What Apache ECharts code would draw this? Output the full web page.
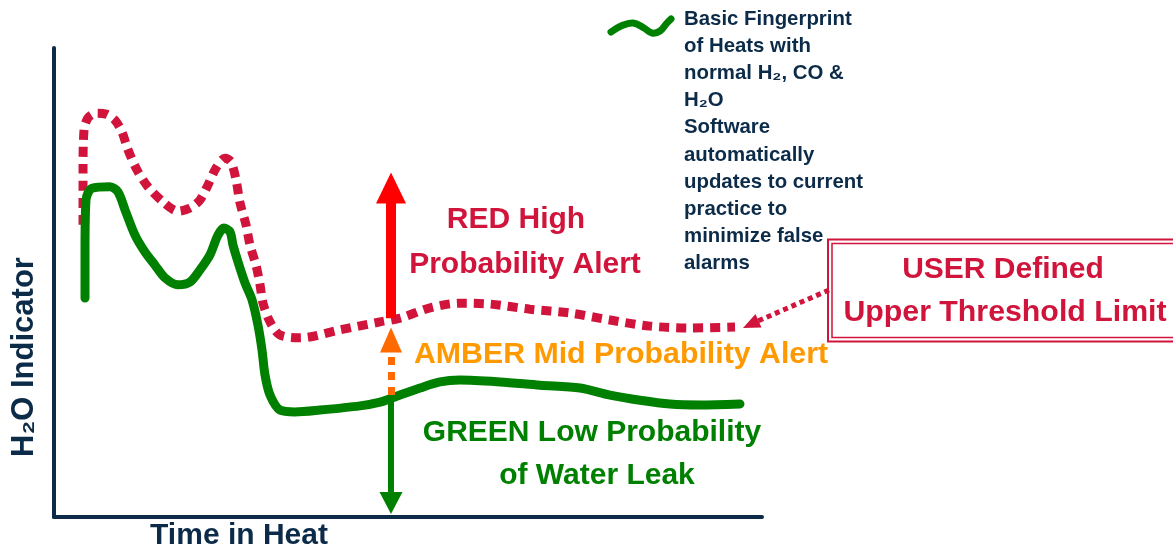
<!DOCTYPE html>
<html><head><meta charset="utf-8">
<script src="https://cdn.jsdelivr.net/npm/echarts@6/dist/echarts.min.js"></script>
<style>html,body{margin:0;padding:0;background:#fff}#c{width:1173px;height:549px}</style>
</head><body><div id="c"></div>
<script>
// Basic fingerprint (green) curve
const greenX = [4.38,4.38,4.52,5.37,7.91,9.04,10.03,11.44,12.85,14.27,15.68,17.51,19.21,20.62,22.03,23.16,24.01,24.86,25.28,25.99,26.98,27.97,28.81,29.38,29.80,30.51,31.92,34.04,37.57,43.22,46.05,48.16,51.69,54.52,57.34,62.99,68.64,74.29,78.53,82.77,87.01,91.24,96.89];
const greenY = [46.7,56.9,67.6,70.1,70.4,69.3,65.5,60.1,56.5,53.7,51.0,49.5,50.1,52.7,55.9,60.1,61.6,60.8,58.0,54.4,49.9,46.3,40.9,35.6,30.3,26.0,22.8,22.4,22.8,23.7,24.5,25.6,27.5,28.8,29.2,28.8,28.1,27.5,26.0,24.9,24.1,23.9,24.1];
// User defined upper threshold (red dashed) curve
const redX = [4.10,4.10,4.24,4.80,5.93,7.34,8.62,9.60,10.45,11.72,13.28,15.40,17.51,19.21,20.62,21.75,22.88,24.15,25.00,25.71,26.27,27.12,27.68,28.53,29.10,29.52,30.51,31.92,34.75,40.40,46.05,48.87,53.11,57.34,61.58,67.23,72.88,78.53,84.18,89.83,96.19];
const redY = [62.3,74.0,82.5,85.1,86.1,85.9,84.6,82.1,78.3,74.0,70.4,67.2,65.2,65.9,67.6,70.8,74.4,76.5,75.7,71.9,67.0,62.3,58.0,53.7,49.5,45.6,41.6,38.8,38.2,39.9,41.6,42.4,44.6,45.6,45.4,44.3,43.5,42.0,40.7,40.3,40.5];
// Alert arrows: x, and [yFrom, yTo(head centre)]
const arrowX = 47.6;
const redArrow = [42.4, 70.15];
const amberArrow = [26.0, 37.74];
const greenArrow = [26.0, 2.99];

const legendLines = ['Basic Fingerprint','of Heats with','normal H\u2082, CO &','H\u2082O','Software','automatically','updates to current','practice to','minimize false','alarms'];

const NAVY = '#0c2b48', CRIMSON = '#d0143b', GREEN = '#008000';
const FONT = '"Liberation Sans", Arial, sans-serif';

const zip = (xs, ys) => xs.map((x, i) => [x, ys[i]]);

const chart = echarts.init(document.getElementById('c'));
const txt = (x, y, text, color, size, align) => ({
  type: 'text', x, y, silent: true,
  style: { text, fill: color, font: 'bold ' + size + 'px ' + FONT, textAlign: align || 'center', textVerticalAlign: 'middle' }
});

const graphics = [
  txt(24, 357, 'H\u2082O Indicator', NAVY, 31),
  txt(239, 536, 'Time in Heat', NAVY, 30),
  txt(516, 220, 'RED High', CRIMSON, 30),
  txt(525, 265, 'Probability Alert', CRIMSON, 30),
  txt(621, 355, 'AMBER Mid Probability Alert', '#ff9900', 30.3),
  txt(592, 433, 'GREEN Low Probability', GREEN, 30),
  txt(597, 476, 'of Water Leak', GREEN, 30),
  txt(1003, 270, 'USER Defined', CRIMSON, 30),
  txt(1005, 313, 'Upper Threshold Limit', CRIMSON, 30.3),
  { type: 'rect', shape: { x: 828, y: 239.5, width: 400, height: 102 }, style: { fill: 'none', stroke: CRIMSON, lineWidth: 2 }, silent: true },
  { type: 'rect', shape: { x: 832, y: 243.5, width: 400, height: 94 }, style: { fill: 'none', stroke: CRIMSON, lineWidth: 1.5 }, silent: true },
  { type: 'line', shape: { x1: 829, y1: 290, x2: 758, y2: 321 }, style: { stroke: CRIMSON, lineWidth: 5, lineDash: [5, 4] }, silent: true },
  { type: 'polygon', shape: { points: [[743, 328], [761.5, 327.5], [755.5, 314]] }, style: { fill: CRIMSON }, silent: true },
  { type: 'polyline', shape: { points: [[611, 32], [621, 26], [633, 23], [644, 28], [652, 33], [660, 31], [667, 23], [671, 19]], smooth: 0.4 }, style: { stroke: GREEN, lineWidth: 7, lineCap: 'round', fill: 'none' }, silent: true }
];
graphics[0].rotation = Math.PI / 2;
legendLines.forEach((t, i) => graphics.push(txt(684, 19 + i * 27.2, t, NAVY, 20.4, 'left')));

chart.setOption({
  animation: false,
  backgroundColor: '#fff',
  grid: { left: 54, right: 411, top: 48, bottom: 32 },
  xAxis: { type: 'value', min: 0, max: 100, axisLine: { lineStyle: { color: NAVY, width: 4 } }, axisTick: { show: false }, axisLabel: { show: false }, splitLine: { show: false } },
  yAxis: { type: 'value', min: 0, max: 100, axisLine: { show: true, lineStyle: { color: NAVY, width: 4 } }, axisTick: { show: false }, axisLabel: { show: false }, splitLine: { show: false } },
  series: [
    {
      type: 'line', data: zip(redX, redY), showSymbol: false, smooth: 0.3, silent: true,
      lineStyle: { color: CRIMSON, width: 9, type: [10, 7], cap: 'butt' }
    },
    {
      type: 'line', data: zip(greenX, greenY), showSymbol: false, smooth: 0.3, silent: true,
      lineStyle: { color: GREEN, width: 9, cap: 'round', join: 'round' },
      markLine: {
        silent: true, animation: false, label: { show: false }, emphasis: { disabled: true },
        data: [
          [{ coord: [arrowX, redArrow[0]], symbol: 'none', lineStyle: { color: '#ff0000', width: 10, type: 'solid' } },
           { coord: [arrowX, redArrow[1]], symbol: 'triangle', symbolSize: [30, 31] }],
          [{ coord: [arrowX, amberArrow[0]], symbol: 'none', lineStyle: { color: '#ff6a00', width: 7, type: [8, 7] } },
           { coord: [arrowX, amberArrow[1]], symbol: 'triangle', symbolSize: [22, 25], itemStyle: { color: '#ff6a00' } }],
          [{ coord: [arrowX, greenArrow[0]], symbol: 'none', lineStyle: { color: GREEN, width: 6, type: 'solid' } },
           { coord: [arrowX, greenArrow[1]], symbol: 'triangle', symbolSize: [23, 22] }]
        ]
      }
    }
  ],
  graphic: graphics
});
</script></body></html>
